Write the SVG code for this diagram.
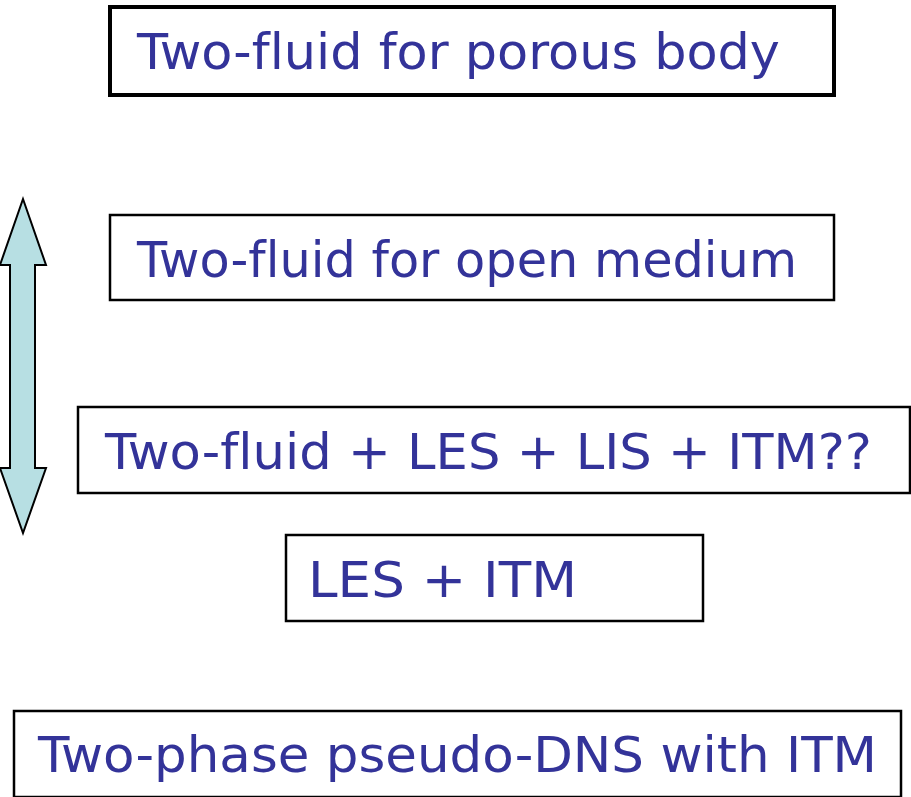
<svg xmlns="http://www.w3.org/2000/svg" width="911" height="797" viewBox="0 0 911 797">
<style>
.box{fill:#fff;stroke:#000;stroke-width:2.5}
.thick{stroke-width:4}
.t{font-family:"Comic Sans MS","DejaVu Sans","Liberation Sans",sans-serif;font-size:50px;fill:#333399;font-variant-ligatures:none}
</style>
<rect width="911" height="797" fill="#fff"/>
<g id="arrow">
<polygon points="23,199 46,265 35,265 35,468 46,468 23,533 0,468 10,468 10,265 0,265" fill="#b7dfe3" stroke="#000" stroke-width="2"/>
</g>
<g id="n1"><rect class="box thick" x="110" y="7" width="724" height="88"/><text class="t" x="137" y="69" textLength="643" lengthAdjust="spacingAndGlyphs">Two-fluid for porous body</text></g>
<g id="n2"><rect class="box" x="110" y="215" width="724" height="85"/><text class="t" x="137" y="277" textLength="660" lengthAdjust="spacingAndGlyphs">Two-fluid for open medium</text></g>
<g id="n3"><rect class="box" x="78" y="407" width="832" height="86"/><text class="t" x="105" y="469" textLength="767" lengthAdjust="spacingAndGlyphs">Two-fluid + LES + LIS + ITM??</text></g>
<g id="n4"><rect class="box" x="286" y="535" width="417" height="86"/><text class="t" x="308" y="597" textLength="269" lengthAdjust="spacingAndGlyphs">LES + ITM</text></g>
<g id="n5"><rect class="box" x="14" y="711" width="887" height="86"/><text class="t" x="38" y="772" textLength="839" lengthAdjust="spacingAndGlyphs">Two-phase pseudo-DNS with ITM</text></g>
<g id="connectors"></g>
</svg>
